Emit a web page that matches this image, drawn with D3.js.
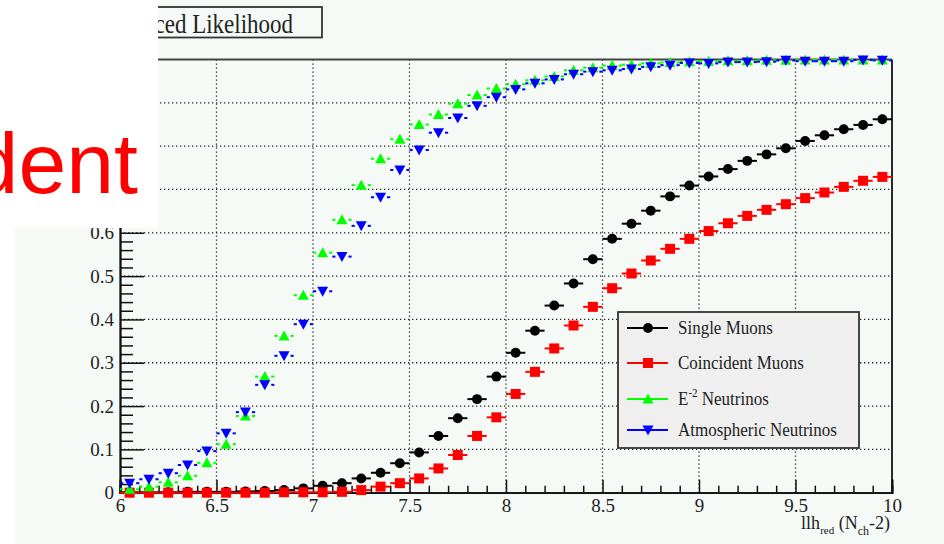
<!DOCTYPE html>
<html>
<head>
<meta charset="utf-8">
<script src="https://cdn.jsdelivr.net/npm/d3@7"></script>
<style>
  html, body { margin: 0; padding: 0; background: #ffffff; }
  svg { display: block; }
</style>
</head>
<body>
<svg id="chart" width="944" height="544"></svg>
<script>
// ---------- data ----------
const binCenters = [6.05,6.15,6.25,6.35,6.45,6.55,6.65,6.75,6.85,6.95,
                    7.05,7.15,7.25,7.35,7.45,7.55,7.65,7.75,7.85,7.95,
                    8.05,8.15,8.25,8.35,8.45,8.55,8.65,8.75,8.85,8.95,
                    9.05,9.15,9.25,9.35,9.45,9.55,9.65,9.75,9.85,9.95];
const binHalfWidth = 0.05;

const singleMuons = [0.001,0.001,0.001,0.002,0.002,0.002,0.003,0.004,0.006,0.010,
                     0.016,0.022,0.033,0.046,0.068,0.093,0.131,0.172,0.216,0.268,
                     0.323,0.374,0.432,0.483,0.539,0.586,0.621,0.651,0.684,0.709,
                     0.730,0.747,0.766,0.781,0.795,0.812,0.825,0.839,0.849,0.862];
const coincidentMuons = [0.000,0.000,0.000,0.000,0.000,0.000,0.000,0.000,0.001,0.001,
                         0.001,0.002,0.006,0.014,0.022,0.033,0.056,0.087,0.131,0.174,
                         0.228,0.279,0.333,0.386,0.429,0.472,0.506,0.536,0.563,0.586,
                         0.604,0.622,0.639,0.653,0.666,0.680,0.693,0.706,0.720,0.729];
const e2Neutrinos = [0.008,0.014,0.024,0.039,0.069,0.112,0.177,0.268,0.362,0.456,
                     0.554,0.630,0.710,0.771,0.816,0.850,0.873,0.898,0.918,0.933,
                     0.943,0.952,0.961,0.975,0.981,0.986,0.988,0.991,0.993,0.995,
                     0.996,0.997,0.997,0.998,0.998,0.999,0.999,0.999,0.999,0.999];
const atmNeutrinos = [0.022,0.031,0.045,0.064,0.096,0.137,0.186,0.249,0.316,0.389,
                      0.465,0.545,0.616,0.682,0.745,0.791,0.831,0.865,0.893,0.913,
                      0.931,0.945,0.954,0.966,0.972,0.975,0.978,0.983,0.987,0.992,
                      0.991,0.994,0.994,0.995,0.998,0.996,0.996,0.996,0.999,0.998];

const seriesNames = ["Single Muons","Coincident Muons","E-2 Neutrinos","Atmospheric Neutrinos"];
const xTickValues = [6,6.5,7,7.5,8,8.5,9,9.5,10];
const xTickLabels = ["6","6.5","7","7.5","8","8.5","9","9.5","10"];
const yTickValues = [0,0.1,0.2,0.3,0.4,0.5,0.6,0.7,0.8,0.9,1.0];
// labels above 0.6 are hidden behind the slide's white block in the reference
const yTickLabels = ["0","0.1","0.2","0.3","0.4","0.5","0.6","","","",""];
const titleText = "Reduced Likelihood";
const slideText = "dent";

// ---------- styling ----------
const SERIF = "'Liberation Serif', 'Times New Roman', serif";
const SANS = "'Liberation Sans', Arial, sans-serif";
const series = [
  {name: seriesNames[0], values: singleMuons,     color: "#000000", marker: "circle",  gap: 4},
  {name: seriesNames[1], values: coincidentMuons, color: "#ff0000", marker: "square",  gap: 4},
  {name: seriesNames[2], values: e2Neutrinos,     color: "#00ff00", marker: "triUp",   gap: 6.5},
  {name: seriesNames[3], values: atmNeutrinos,    color: "#0000ff", marker: "triDown", gap: 6.5}
];

const svg = d3.select("#chart");
const W = 944, H = 544;
const bg = "#f6faf7";

svg.append("rect").attr("x", 15).attr("y", 0).attr("width", W - 15).attr("height", H).attr("fill", bg);

const x = d3.scaleLinear().domain([6, 10]).range([120, 892]);
const y = d3.scaleLinear().domain([0, 1]).range([492.7, 59.5]);

// grid
const grid = svg.append("g").attr("stroke", "#222").attr("stroke-width", 1.3).attr("stroke-dasharray", "1.3,2.7");
grid.selectAll("line.gx").data(xTickValues.filter(v => v > 6 && v < 10)).join("line")
  .attr("x1", d => x(d)).attr("x2", d => x(d)).attr("y1", y(1)).attr("y2", y(0));
grid.selectAll("line.gy").data(yTickValues.filter(v => v > 0 && v < 1)).join("line")
  .attr("x1", x(6)).attr("x2", x(10) - 2).attr("y1", d => y(d)).attr("y2", d => y(d));

// frame (top / right)
svg.append("line").attr("x1", x(6)).attr("x2", x(10)).attr("y1", y(1)).attr("y2", y(1))
  .attr("stroke", "#444").attr("stroke-width", 2);
svg.append("line").attr("x1", x(10)).attr("x2", x(10)).attr("y1", y(1)).attr("y2", y(0))
  .attr("stroke", "#111").attr("stroke-width", 1.8);

// x axis
const xMinor = d3.range(60, 101).map(v => v / 10).filter(v => !xTickValues.includes(v));
const gxMinor = svg.append("g").attr("transform", `translate(0,${y(0)})`)
  .call(d3.axisBottom(x).tickValues(xMinor).tickSize(-7).tickFormat(""));
const gx = svg.append("g").attr("transform", `translate(0,${y(0)})`)
  .call(d3.axisBottom(x).tickValues(xTickValues).tickSize(-13).tickPadding(5.5)
        .tickFormat((d, i) => xTickLabels[i]));
[gx, gxMinor].forEach(g => {
  g.select(".domain").attr("stroke", "#111").attr("stroke-width", 1.8);
  g.selectAll(".tick line").attr("stroke", "#111").attr("stroke-width", 1.5);
});
gx.selectAll(".tick text").style("font-size", "19px").style("font-family", SERIF).attr("fill", "#222");

// y axis
const yMinor = d3.range(0, 51).map(v => v / 50).filter(v => Math.abs(Math.round(v * 10) - v * 10) > 1e-6);
const gyMinor = svg.append("g").attr("transform", `translate(${x(6)},0)`)
  .call(d3.axisLeft(y).tickValues(yMinor).tickSize(-13).tickFormat(""));
const gy = svg.append("g").attr("transform", `translate(${x(6)},0)`)
  .call(d3.axisLeft(y).tickValues(yTickValues).tickSize(-24).tickPadding(6)
        .tickFormat((d, i) => yTickLabels[i]));
[gy, gyMinor].forEach(g => {
  g.select(".domain").attr("stroke", "#111").attr("stroke-width", 1.8);
  g.selectAll(".tick line").attr("stroke", "#111").attr("stroke-width", 1.5);
});
gy.selectAll(".tick text").style("font-size", "19px").style("font-family", SERIF).attr("fill", "#222");

// x axis title
const xt = svg.append("text").attr("x", 890).attr("y", 529).attr("text-anchor", "end")
  .style("font-family", SERIF).style("font-size", "18px").attr("fill", "#222");
xt.append("tspan").text("llh");
xt.append("tspan").style("font-size", "11px").attr("dy", 5).text("red");
xt.append("tspan").attr("dy", -5).text(" (N");
xt.append("tspan").style("font-size", "12px").attr("dy", 6).text("ch");
xt.append("tspan").attr("dy", -6).text("-2)");

// marker shapes
function markerPath(type) {
  switch (type) {
    case "circle":  return d3.symbol(d3.symbolCircle, 78)();
    case "square":  return "M-5,-5H5V5H-5Z";
    case "triUp":   return "M0,-5.5L5.5,4.5L-5.5,4.5Z";
    case "triDown": return "M0,5.5L5.5,-4.5L-5.5,-4.5Z";
  }
}

// data points
series.forEach(s => {
  const g = svg.append("g");
  const pts = binCenters.map((c, i) => ({c, v: s.values[i]}));
  g.selectAll("line.l").data(pts).join("line")
    .attr("x1", d => x(d.c - binHalfWidth)).attr("x2", d => x(d.c) - s.gap)
    .attr("y1", d => y(d.v)).attr("y2", d => y(d.v))
    .attr("stroke", s.color).attr("stroke-width", 2);
  g.selectAll("line.r").data(pts).join("line")
    .attr("x1", d => x(d.c) + s.gap).attr("x2", d => x(d.c + binHalfWidth))
    .attr("y1", d => y(d.v)).attr("y2", d => y(d.v))
    .attr("stroke", s.color).attr("stroke-width", 2);
  g.selectAll("path").data(pts).join("path")
    .attr("d", markerPath(s.marker))
    .attr("transform", d => `translate(${x(d.c)},${y(d.v)})`)
    .attr("fill", s.color);
});

// legend
const lg = svg.append("g");
lg.append("rect").attr("x", 618).attr("y", 312).attr("width", 241).attr("height", 136)
  .attr("fill", "#efefef").attr("stroke", "#333").attr("stroke-width", 1.8);
const legendY = [328, 363, 399, 430];
series.forEach((s, i) => {
  const yy = legendY[i];
  lg.append("line").attr("x1", 627).attr("x2", 668).attr("y1", yy).attr("y2", yy)
    .attr("stroke", s.color).attr("stroke-width", 2.2);
  lg.append("path").attr("d", markerPath(s.marker)).attr("transform", `translate(648,${yy})`)
    .attr("fill", s.color);
  const t = lg.append("text").attr("transform", `translate(678,${yy + 6}) scale(1,1.15)`)
    .style("font-family", SERIF).style("font-size", "17px").attr("fill", "#222");
  if (i === 2) {
    t.append("tspan").text("E");
    t.append("tspan").style("font-size", "11px").attr("dy", -7).text("-2");
    t.append("tspan").attr("dy", 7).text(" Neutrinos");
  } else {
    t.text(s.name);
  }
});

// title pave
svg.append("rect").attr("x", 60).attr("y", 7).attr("width", 262).attr("height", 30.5)
  .attr("fill", bg).attr("stroke", "#333").attr("stroke-width", 1.8);
svg.append("text").attr("transform", "translate(293,33) scale(1,1.15)").attr("text-anchor", "end")
  .style("font-family", SERIF).style("font-size", "23px").attr("fill", "#222").text(titleText);

// slide overlay: white block with red text
svg.append("rect").attr("x", 0).attr("y", 0).attr("width", 158).attr("height", 228).attr("fill", "#ffffff");
svg.append("text").attr("x", 138).attr("y", 193).attr("text-anchor", "end")
  .style("font-family", SANS).style("font-size", "86px")
  .attr("fill", "#ff0000").text(slideText);
</script>
</body>
</html>
